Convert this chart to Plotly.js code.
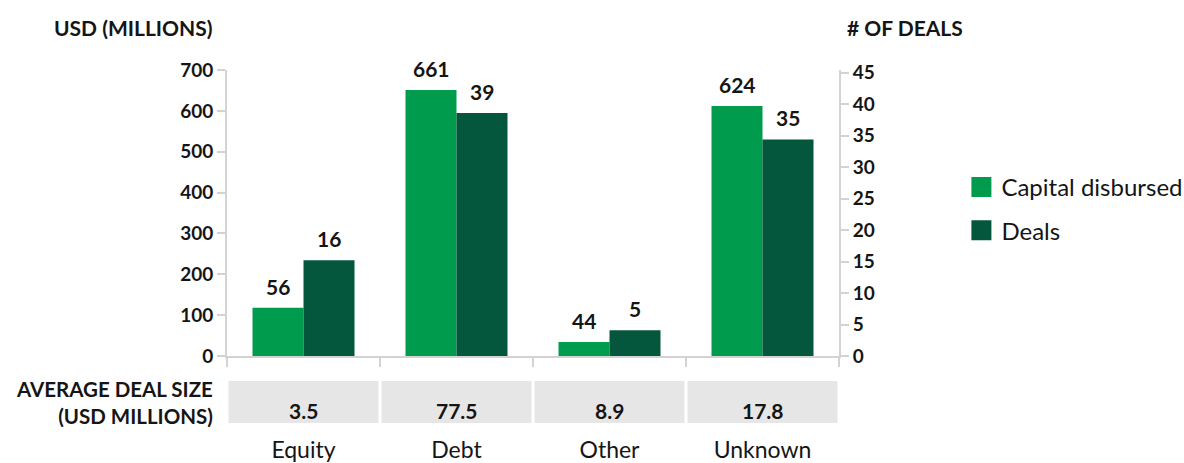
<!DOCTYPE html>
<html>
<head>
<meta charset="utf-8">
<script src="https://cdn.plot.ly/plotly-3.0.1.min.js"></script>
<style>
  html, body { margin: 0; padding: 0; background: #ffffff; }
  #chart { width: 1184px; height: 463px; }
</style>
</head>
<body>
<div id="chart"></div>
<script>
// ---- data ----
const categories = ["Equity", "Debt", "Other", "Unknown"];
// bar heights as drawn against the axes
const capitalBars = [118, 651, 34, 612];      // USD millions (left axis)
const dealsBars = [15.2, 38.6, 4.1, 34.4];    // # of deals (right axis)
// value labels as printed above the bars
const capitalLabels = ["56", "661", "44", "624"];
const dealsLabels = ["16", "39", "5", "35"];
// average deal size row
const avgDealSize = ["3.5", "77.5", "8.9", "17.8"];

const FONT = "Lato, 'Open Sans', sans-serif";
const TXT = "#151515";
const AXC = "#d3d3d3";
const LIGHT = "#009b4c";
const DARK = "#04563d";

const traces = [
  {
    type: "bar", name: "Capital disbursed", x: categories, y: capitalBars,
    yaxis: "y", offsetgroup: "1", legendgroup: "a",
    marker: { color: LIGHT }, hoverinfo: "skip"
  },
  {
    type: "bar", name: "Deals", x: categories, y: dealsBars,
    yaxis: "y2", offsetgroup: "2", legendgroup: "b",
    marker: { color: DARK }, hoverinfo: "skip"
  }
];

const annotations = [];
categories.forEach((c, i) => {
  annotations.push({
    x: c, y: capitalBars[i], xref: "x", yref: "y", text: "<b>" + capitalLabels[i] + "</b>",
    showarrow: false, xanchor: "center", yanchor: "bottom", xshift: -25.5, yshift: 7,
    font: { family: FONT, size: 21, color: TXT }
  });
  annotations.push({
    x: c, y: dealsBars[i], xref: "x", yref: "y2", text: "<b>" + dealsLabels[i] + "</b>",
    showarrow: false, xanchor: "center", yanchor: "bottom", xshift: 25.5, yshift: 7,
    font: { family: FONT, size: 21, color: TXT }
  });
  annotations.push({
    x: c, y: -0.189, xref: "x", yref: "paper", text: "<b>" + avgDealSize[i] + "</b>",
    showarrow: false, xanchor: "center", yanchor: "middle",
    font: { family: FONT, size: 21, color: TXT }
  });
});
annotations.push({
  x: -0.0196, y: -0.162, xref: "paper", yref: "paper",
  text: "<b>AVERAGE DEAL SIZE</b><br><b>(USD MILLIONS)</b>",
  showarrow: false, xanchor: "right", yanchor: "middle", align: "right",
  font: { family: FONT, size: 20.5, color: TXT }
});
annotations.push({
  x: (52 - 227) / 612, y: 1.147, xref: "paper", yref: "paper",
  text: "<b>USD (MILLIONS)</b>", showarrow: false, xanchor: "left", yanchor: "middle",
  font: { family: FONT, size: 21, color: TXT }
});
annotations.push({
  x: (845 - 227) / 612, y: 1.147, xref: "paper", yref: "paper",
  text: "<b># OF DEALS</b>", showarrow: false, xanchor: "left", yanchor: "middle",
  font: { family: FONT, size: 21, color: TXT }
});

const shapes = categories.map((c, i) => ({
  type: "rect", xref: "x", yref: "paper",
  x0: i - 0.49, x1: i + 0.49, y0: -0.234, y1: -0.0874,
  fillcolor: "#e6e6e6", line: { width: 0 }, layer: "below"
}));

const layout = {
  width: 1184, height: 463,
  margin: { l: 227, r: 345, t: 70, b: 107, autoexpand: false },
  paper_bgcolor: "#ffffff", plot_bgcolor: "#ffffff",
  barmode: "group", bargap: 1 / 3, bargroupgap: 0,
  font: { family: FONT, color: TXT },
  showlegend: true,
  legend: {
    x: 1.2, y: 0.668, xanchor: "left", yanchor: "top",
    font: { family: FONT, size: 24, color: TXT },
    tracegroupgap: 9, traceorder: "grouped", bgcolor: "rgba(0,0,0,0)"
  },
  xaxis: {
    type: "category", range: [-0.5, 3.5], fixedrange: true,
    showline: true, linecolor: AXC, linewidth: 2,
    ticks: "outside", tickson: "boundaries", ticklen: 9, tickcolor: AXC, tickwidth: 2,
    tickfont: { family: FONT, size: 23, color: TXT },
    ticklabelstandoff: 72, showgrid: false, zeroline: false
  },
  yaxis: {
    range: [0, 700], dtick: 100, fixedrange: true,
    showline: true, linecolor: AXC, linewidth: 2,
    ticks: "outside", ticklen: 8, tickcolor: AXC, tickwidth: 2,
    tickfont: { family: FONT, size: 19, color: TXT, weight: "bold" },
    showgrid: false, zeroline: false
  },
  yaxis2: {
    range: [0, 45.43], dtick: 5, overlaying: "y", side: "right", fixedrange: true,
    showline: true, linecolor: AXC, linewidth: 2,
    ticks: "outside", ticklen: 8, tickcolor: AXC, tickwidth: 2,
    tickfont: { family: FONT, size: 19, color: TXT, weight: "bold" },
    showgrid: false, zeroline: false
  },
  annotations: annotations,
  shapes: shapes
};

Plotly.newPlot("chart", traces, layout, { displayModeBar: false, staticPlot: true }).then(gd => {
  // enlarge the legend swatches to match the reference's larger squares
  gd.querySelectorAll(".legendpoints path").forEach(p => p.setAttribute("d", "M10,10H-10V-10H10Z"));
});
</script>
</body>
</html>
